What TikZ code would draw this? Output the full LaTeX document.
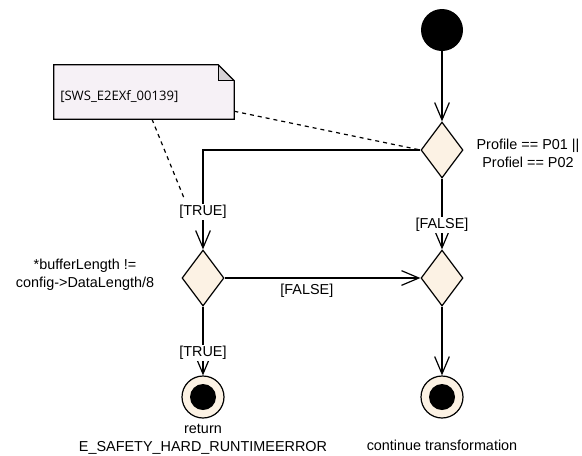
\documentclass[tikz,border=0pt]{standalone}
\usepackage{fontspec}
\setmainfont{Liberation Sans}
\newfontfamily\notefont{Open Sans}
\usepackage{tikz}
\usetikzlibrary{arrows.meta, shapes.geometric, positioning}
\definecolor{actfill}{RGB}{252,242,228}
\definecolor{notefill}{RGB}{246,241,246}
\definecolor{notefold}{RGB}{214,210,214}
\tikzstyle{flow} = [line width=0.9pt, -{Straight Barb[length=13pt,width=11pt]}]
\tikzstyle{notelink} = [line width=0.9pt, dash pattern=on 3pt off 3pt]
\tikzset{decision/.style={diamond, draw, line width=0.9pt, fill=actfill, minimum width=31.5pt, minimum height=42pt, inner sep=0pt},
  start/.style={circle, fill=black, minimum size=31.5pt, inner sep=0pt},
  final/.style={circle, draw, line width=0.9pt, fill=actfill, minimum size=31.5pt, inner sep=0pt},
  guard/.style={fill=white, inner sep=1pt},
  txt/.style={align=center, font=\fontsize{10.8}{13.5}\selectfont}}

\begin{document}
\begin{tikzpicture}[x=0.75pt, y=-0.75pt, every node/.style={font=\fontsize{10.8}{13.5}\selectfont}]
        \useasboundingbox (0,0) rectangle (582,455);
        % Draw the nodes
        \node[start] (init) at (442,30) {};
        \node[decision] (profile) at (442,150) {};
        \node[decision] (length) at (203,278) {};
        \node[decision] (merge) at (442,278) {};
        \node[final] (endError) at (203,397) {};
        \fill (endError) circle (9.75pt);
        \node[final] (endOk) at (442,397) {};
        \fill (endOk) circle (9.75pt);

        % Conditions and end texts
        \node[txt] at (528,153) {Profile == P01 ||\\Profiel == P02};
        \node[txt] at (85,275) {*bufferLength !=\\config->DataLength/8};
        \node[txt, below=1pt of endError] {return\\E\_SAFETY\_HARD\_RUNTIMEERROR};
        \node[txt] at (442,445) {continue transformation};

        % Draw the flows
        \draw[flow] (init) -- (profile);
        \draw[flow] (profile.west) -| node[guard, pos=0.81] {[TRUE]} (length.north);
        \draw[flow] (profile.south) -- node[guard, pos=0.65] {[FALSE]} (merge.north);
        \draw[flow] (length.east) -- node[below=1pt, pos=0.42] {[FALSE]} (merge.west);
        \draw[flow] (length.south) -- node[guard, pos=0.67] {[TRUE]} (endError.north);
        \draw[flow] (merge.south) -- (endOk.north);

        % Draw the note
        \node[minimum width=135pt, minimum height=40.5pt, inner sep=0pt] (note) at (144,92) {};
        \fill[notefill] (note.south west) -- (note.north west) -- ([xshift=-12pt]note.north east) -- ([yshift=-12pt]note.north east) -- (note.south east) -- cycle;
        \fill[notefold] ([xshift=-12pt]note.north east) -- ([xshift=-12pt,yshift=-12pt]note.north east) -- ([yshift=-12pt]note.north east) -- cycle;
        \draw[line width=0.9pt] (note.south west) -- (note.north west) -- ([xshift=-12pt]note.north east) -- ([yshift=-12pt]note.north east) -- (note.south east) -- cycle;
        \draw[line width=0.9pt] ([xshift=-12pt]note.north east) -- ([xshift=-12pt,yshift=-12pt]note.north east) -- ([yshift=-12pt]note.north east);
        \node[anchor=west, font=\notefont\fontsize{9.8}{12}\selectfont, inner sep=0pt] (noteText) at (60,97) {[SWS\_E2EXf\_00139]};

        % Draw the note links
        \coordinate (linkTrue) at (184,198);
        \draw[notelink] ([yshift=6pt]note.south east) -- (profile.west);
        \draw[notelink] ([xshift=6pt]note.south) -- (linkTrue);
    \end{tikzpicture}
\end{document}
